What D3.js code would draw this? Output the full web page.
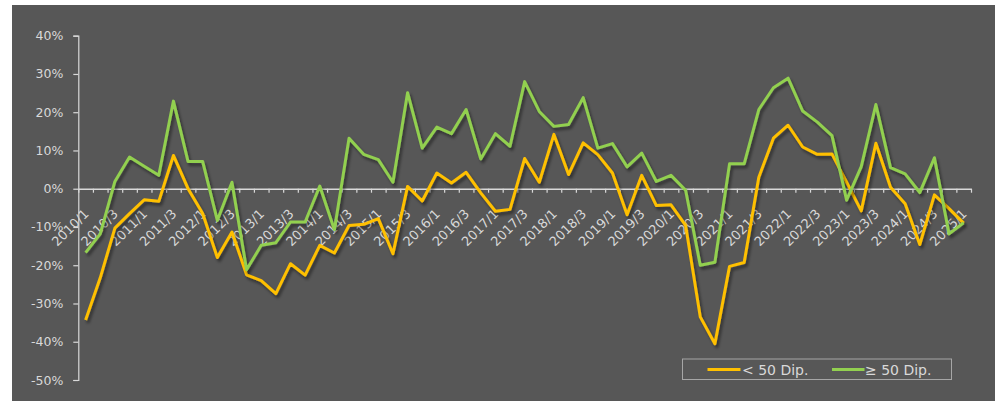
<!DOCTYPE html>
<html>
<head>
<meta charset="utf-8">
<script src="https://cdn.jsdelivr.net/npm/d3@7"></script>
<style>
  html, body { margin: 0; padding: 0; background: #ffffff; }
  svg { display: block; }
  text { font-family: "DejaVu Sans", sans-serif; }
</style>
</head>
<body>
<svg id="chart" width="1001" height="401"></svg>
<script>
// Quarterly periods 2010/1 .. 2025/1
const years = d3.range(2010, 2026);
const quarters = [1, 2, 3, 4];
const periods = years.flatMap(y => quarters.map(q => `${y}/${q}`)).slice(0, 61);

// Year-on-year change (%) by company size
const under50 = [-34.3, -23.3, -10.3, -6.5, -2.9, -3.3, 8.7, 0.0, -6.5, -18.0,
  -11.3, -22.5, -24.0, -27.4, -19.6, -22.6, -14.8, -16.8, -9.6, -9.3,
  -7.8, -17.0, 0.6, -3.2, 4.1, 1.5, 4.3, -1.1, -5.9, -5.4,
  7.9, 1.7, 14.2, 3.7, 12.0, 8.9, 4.1, -6.8, 3.5, -4.4,
  -4.2, -9.6, -33.5, -40.5, -20.3, -19.3, 3.0, 13.2, 16.6, 10.9,
  9.0, 9.1, 1.7, -5.8, 11.9, 0.4, -3.9, -14.6, -1.6, -5.2, -9.0];
const over50 = [-16.7, -11.8, 1.9, 8.3, 5.9, 3.5, 22.9, 7.1, 7.1, -8.3,
  1.7, -21.2, -14.8, -14.1, -8.7, -8.7, 0.7, -10.7, 13.2, 9.0,
  7.6, 1.7, 25.1, 10.6, 16.1, 14.4, 20.7, 7.8, 14.4, 11.1,
  28.0, 20.2, 16.3, 16.8, 23.8, 10.6, 11.8, 5.7, 9.3, 1.9,
  3.5, -0.4, -20.0, -19.2, 6.5, 6.5, 20.7, 26.4, 28.9, 20.3,
  17.4, 13.9, -3.0, 5.8, 22.0, 5.5, 3.9, -1.0, 8.1, -11.8, -8.9];

const seriesNames = ["< 50 Dip.", "\u2265 50 Dip."];
const seriesColors = ["#FFC000", "#92D050"];
const yTicks = [-50, -40, -30, -20, -10, 0, 10, 20, 30, 40];

const svg = d3.select("#chart");
const W = 1001, H = 401;
const plot = { left: 78.3, right: 971, top: 35.7, bottom: 380 };

// drop shadow for the lines
const defs = svg.append("defs");
const f = defs.append("filter").attr("id", "shadow")
  .attr("x", "-5%").attr("y", "-5%").attr("width", "110%").attr("height", "120%");
f.append("feDropShadow").attr("dx", 2).attr("dy", 3).attr("stdDeviation", 1.6)
  .attr("flood-color", "#000").attr("flood-opacity", 0.45);

// background panel
svg.append("rect").attr("x", 12).attr("y", 5).attr("width", 983).attr("height", H - 5)
  .attr("fill", "#575757");

const x = d3.scaleBand().domain(periods).range([plot.left, plot.right]).padding(0);
const y = d3.scaleLinear().domain([-50, 40]).range([plot.bottom, plot.top]);
const xc = d => x(d) + x.bandwidth() / 2;

const axisColor = "#d9d9d9";

// Y axis
const gy = svg.append("g").attr("transform", `translate(${plot.left},0)`)
  .call(d3.axisLeft(y).tickValues(yTicks).tickSize(5).tickPadding(10)
    .tickFormat(d => `${d}%`));
gy.select(".domain").attr("stroke", axisColor).attr("stroke-width", 1.2);
gy.selectAll(".tick line").attr("stroke", axisColor).attr("stroke-width", 1.2);
gy.selectAll(".tick text").attr("fill", axisColor).attr("font-size", 12.5)
  .attr("font-family", "DejaVu Sans, sans-serif");

// X axis at 0%: tick marks on band boundaries
const xb = d3.scaleLinear().domain([0, periods.length]).range([plot.left, plot.right]);
const gx = svg.append("g").attr("transform", `translate(0,${y(0)})`)
  .call(d3.axisBottom(xb).tickValues(d3.range(periods.length + 1)).tickSize(4)
    .tickSizeOuter(0).tickFormat(""));
gx.select(".domain").attr("stroke", axisColor).attr("stroke-width", 1.5);
gx.selectAll(".tick line").attr("stroke", axisColor).attr("stroke-width", 1.2);

// X labels, every second quarter, rotated
const labelPeriods = periods.filter((d, i) => i % 2 === 0);
const gl = svg.append("g").attr("transform", `translate(0,${y(0)})`)
  .call(d3.axisBottom(x).tickValues(labelPeriods).tickSize(0).tickSizeOuter(0));
gl.select(".domain").remove();
gl.selectAll(".tick text")
  .attr("fill", axisColor).attr("font-size", 13)
  .attr("font-family", "DejaVu Sans, sans-serif")
  .attr("text-anchor", "end")
  .attr("x", 0).attr("y", 0).attr("dy", null)
  .attr("transform", "translate(4,26) rotate(-45)");

// lines
const data = [under50, over50];
const line = d3.line().x((d, i) => xc(periods[i])).y(d => y(d));
data.forEach((vals, k) => {
  svg.append("path").datum(vals)
    .attr("d", line)
    .attr("fill", "none")
    .attr("stroke", seriesColors[k])
    .attr("stroke-width", 3)
    .attr("stroke-linejoin", "round")
    .attr("filter", "url(#shadow)");
});

// legend
const lg = svg.append("g");
lg.append("rect").attr("x", 682.5).attr("y", 359).attr("width", 269).attr("height", 20.5)
  .attr("fill", "none").attr("stroke", "#a6a6a6").attr("stroke-width", 1);
const legendItems = [{ x0: 707.5, x1: 740.5, tx: 742 }, { x0: 832, x1: 864.5, tx: 865 }];
legendItems.forEach((it, k) => {
  lg.append("line").attr("x1", it.x0).attr("x2", it.x1).attr("y1", 369.5).attr("y2", 369.5)
    .attr("stroke", seriesColors[k]).attr("stroke-width", 3);
  lg.append("text").attr("x", it.tx).attr("y", 374.5)
    .attr("fill", axisColor).attr("font-size", 14)
    .text(seriesNames[k]);
});
</script>
</body>
</html>
